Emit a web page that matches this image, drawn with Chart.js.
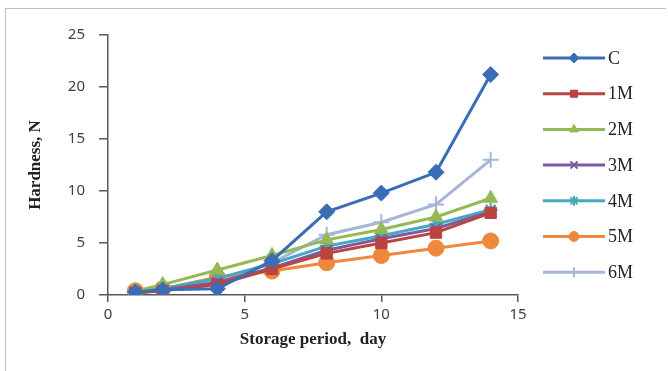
<!DOCTYPE html>
<html>
<head>
<meta charset="utf-8">
<script src="https://cdn.jsdelivr.net/npm/chart.js@4.4.0/dist/chart.umd.min.js"></script>
<style>
    body { margin: 0; background: #fff; }
    #frame { position: absolute; left: 5px; top: 8px; width: 660px; height: 362px; border: 1px solid #bdbdbd; border-right: none; border-bottom: none; }
    #wrap { position: absolute; left: 0; top: 0; width: 668px; height: 371px; }
</style>
</head>
<body>
<div id="frame"></div>
<div id="wrap"><canvas id="grafico" width="668" height="371"></canvas></div>
<script>
// giorni di conservazione
var days = [1, 2, 4, 6, 8, 10, 12, 14];

var seriesNames = ["C", "1M", "2M", "3M", "4M", "5M", "6M"];
var valC  = [0.3, 0.5, 0.6, 3.3, 8.0, 9.8, 11.8, 21.2];
var val1M = [0.2, 0.4, 1.0, 2.5, 4.0, 5.0, 6.0, 7.9];
var val2M = [0.4, 1.0, 2.4, 3.8, 5.3, 6.3, 7.5, 9.3];
var val3M = [0.2, 0.5, 1.2, 2.6, 4.3, 5.4, 6.4, 8.0];
var val4M = [0.3, 0.6, 1.6, 3.0, 4.7, 5.7, 6.8, 8.2];
var val5M = [0.4, 0.6, 1.7, 2.3, 3.1, 3.8, 4.5, 5.2];
var val6M = [0.2, 0.5, 1.3, 3.1, 5.8, 7.0, 8.7, 13.0];

var xTicks = [0, 5, 10, 15];
var yTicks = [0, 5, 10, 15, 20, 25];

var allValues = [valC, val1M, val2M, val3M, val4M, val5M, val6M];
var colors = ["#3a6db5", "#bb4340", "#94b955", "#7a5c9e", "#45a8c2", "#f0883c", "#a6b6d8"];
var markers = ["rectRot", "rect", "triangle", "crossRot", "star", "circle", "cross"];
var radii = [8, 8, 8, 7, 7, 8, 8];

function toPoints(vals) {
    var pts = [];
    for (var i = 0; i < days.length; i++) {
        pts.push({ x: days[i], y: vals[i] });
    }
    return pts;
}

var datasets = [];
for (var i = 0; i < seriesNames.length; i++) {
    datasets.push({
        label: seriesNames[i],
        data: toPoints(allValues[i]),
        borderColor: colors[i],
        backgroundColor: colors[i],
        borderWidth: 3,
        fill: false,
        pointStyle: markers[i],
        pointRadius: radii[i],
        pointBorderWidth: (markers[i] == "crossRot" || markers[i] == "star" || markers[i] == "cross") ? 2 : 1,
        tension: 0
    });
}

// legenda disegnata a mano: linea + marker come in Excel
var legendaExcel = {
    id: "legendaExcel",
    afterDraw: function(chart) {
        var ctx = chart.ctx;
        var y0 = 58, step = 35.7;
        ctx.save();
        for (var i = 0; i < datasets.length; i++) {
            var ds = datasets[i];
            var y = y0 + i * step;
            ctx.strokeStyle = ds.borderColor;
            ctx.lineWidth = 3;
            ctx.beginPath();
            ctx.moveTo(543, y);
            ctx.lineTo(605, y);
            ctx.stroke();
            ctx.fillStyle = ds.backgroundColor;
            ctx.lineWidth = ds.pointBorderWidth;
            Chart.helpers.drawPoint(ctx, { pointStyle: ds.pointStyle, radius: 5, rotation: 0, borderWidth: ds.pointBorderWidth }, 574, y);
            ctx.fillStyle = "#222";
            ctx.font = "18px 'Liberation Serif'";
            ctx.textBaseline = "middle";
            ctx.textAlign = "left";
            ctx.fillText(ds.label, 608, y + 1);
        }
        ctx.restore();
    }
};

var ctx = document.getElementById("grafico");
var chart = new Chart(ctx, {
    type: "line",
    data: { datasets: datasets },
    options: {
        responsive: false,
        animation: false,
        devicePixelRatio: 1,
        layout: { padding: { left: 20, right: 150, top: 35, bottom: 20 } },
        plugins: {
            legend: { display: false },
            tooltip: { enabled: false }
        },
        scales: {
            x: {
                type: "linear",
                min: 0,
                max: 15,
                afterBuildTicks: function(scale) {
                    scale.ticks = xTicks.map(function(v) { return { value: v }; });
                },
                afterFit: function(scale) { scale.height = 56; },
                grid: { drawOnChartArea: false, drawTicks: true, tickLength: 7, color: "#595959", lineWidth: 1.5 },
                border: { color: "#595959", width: 1.5 },
                ticks: { color: "#404040", font: { family: "'Noto Sans'", size: 15 }, padding: 4, maxRotation: 0 },
                title: { display: true, text: "Storage period,  day", color: "#222", font: { family: "'Liberation Serif'", size: 17, weight: "bold" }, padding: { top: 0, bottom: 1 } }
            },
            y: {
                min: 0,
                max: 25,
                afterBuildTicks: function(scale) {
                    scale.ticks = yTicks.map(function(v) { return { value: v }; });
                },
                afterFit: function(scale) { scale.width = 88; },
                grid: { drawOnChartArea: false, drawTicks: true, tickLength: 9, color: "#595959", lineWidth: 1.5 },
                border: { color: "#595959", width: 1.5 },
                ticks: { color: "#404040", font: { family: "'Noto Sans'", size: 15 }, padding: 14 },
                title: { display: true, text: "Hardness, N", color: "#222", font: { family: "'Liberation Serif'", size: 17, weight: "bold" }, padding: { top: 5, bottom: 0 } }
            }
        }
    },
    plugins: [legendaExcel]
});
</script>
</body>
</html>
